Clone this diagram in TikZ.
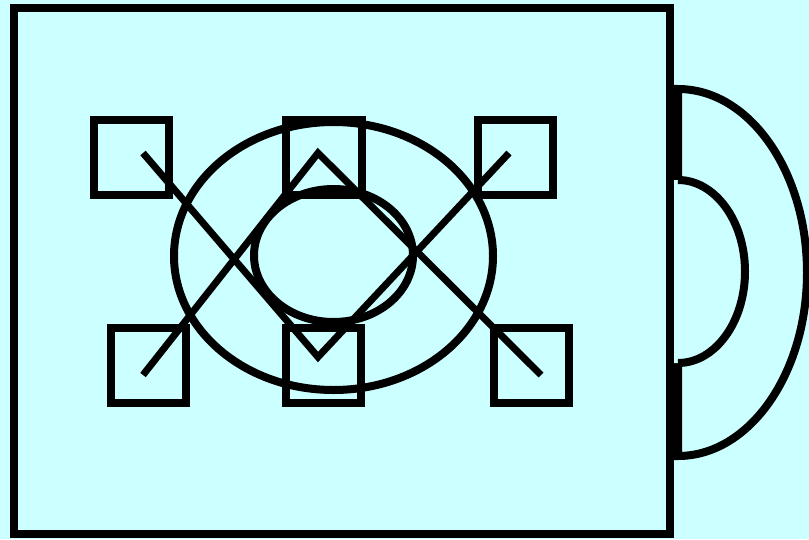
\documentclass[tikz,border=0pt]{standalone}
\definecolor{bgcyan}{HTML}{CCFFFF}
\begin{document}
\begin{tikzpicture}[x=1pt,y=-1pt,
  thick line/.style={line width=8pt,draw=black},
  boxsq/.style={thick line,minimum size=0pt}]
\fill[bgcyan] (0,0) rectangle (809,539);
\useasboundingbox (0,0) rectangle (809,539);
% right half-ellipses
\draw[thick line,fill=bgcyan] (678,89) arc[start angle=-90,end angle=90,x radius=129,y radius=183.5] -- cycle;
\fill[bgcyan] (674,180) -- (678,180) arc[start angle=-90,end angle=90,x radius=67,y radius=91.5] -- (674,363) -- cycle;
\draw[thick line] (678,180) arc[start angle=-90,end angle=90,x radius=67,y radius=91.5];
% main frame
\draw[thick line] (14,8) rectangle (670,534);
% squares
\draw[thick line] (94,120) rectangle (169,195);
\draw[thick line] (286,120) rectangle (362,195);
\draw[thick line] (478,120) rectangle (553,195);
\draw[thick line] (111,328) rectangle (186,403);
\draw[thick line] (286,328) rectangle (361,403);
\draw[thick line] (494,328) rectangle (569,403);
% ellipses
\draw[thick line] (333.5,256) ellipse[x radius=159.5,y radius=134];
\draw[thick line] (333.5,255.5) ellipse[x radius=79.5,y radius=66.5];
% zigzag lines
\coordinate (a1) at (143,153);
\coordinate (a2) at (318,357);
\coordinate (a3) at (509,153);
\coordinate (b1) at (143,375);
\coordinate (b2) at (318,153);
\coordinate (b3) at (541,375);
\draw[line width=7pt] (a1) -- (a2) -- (a3);
\draw[line width=7pt] (b1) -- (b2) -- (b3);
\end{tikzpicture}
\end{document}
